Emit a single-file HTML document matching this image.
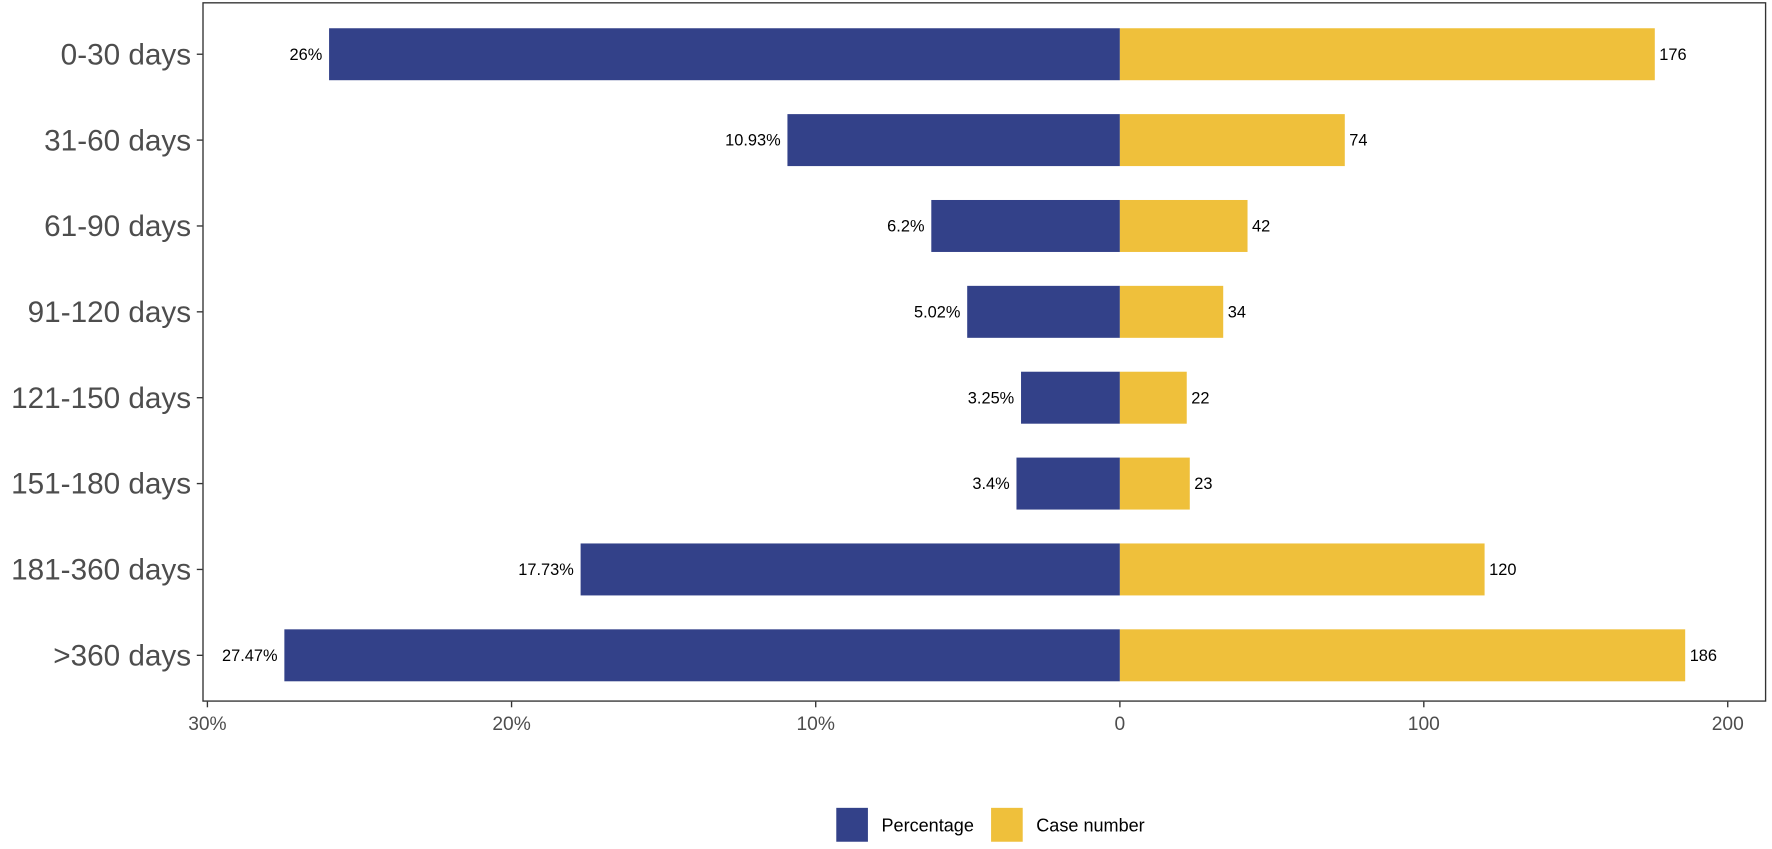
<!DOCTYPE html>
<html><head><meta charset="utf-8"><style>
body{margin:0;background:#fff;font-family:"Liberation Sans",Arial,sans-serif}
</style></head><body>
<svg id="chart" width="1772" height="844" viewBox="0 0 1568 747" xmlns="http://www.w3.org/2000/svg" font-family="Liberation Sans, Arial, sans-serif">
<rect x="179.5" y="2.5" width="1383" height="618" fill="none" stroke="#333" stroke-width="1.2"/>
<g id="bars"></g>
<g id="axes"></g>
<g>
<rect x="740" y="715" width="28" height="30" fill="#334189"/>
<text x="780" y="736" font-size="16" fill="#000">Percentage</text>
<rect x="877" y="715" width="28" height="30" fill="#EFC03B"/>
<text x="917" y="736" font-size="16" fill="#000">Case number</text>
</g>
</svg>
<script>
const categories=["0-30 days","31-60 days","61-90 days","91-120 days","121-150 days","151-180 days","181-360 days",">360 days"];
const percentages=[26,10.93,6.2,5.02,3.25,3.4,17.73,27.47];
const pctLabels=["26%","10.93%","6.2%","5.02%","3.25%","3.4%","17.73%","27.47%"];
const cases=[176,74,42,34,22,23,120,186];
const leftTicks=[30,20,10];
const rightTicks=[0,100,200];
const NS="http://www.w3.org/2000/svg";
const x0=991, pxPerPct=26.92, pxPerCase=2.69;
const xPct=p=>x0-p*pxPerPct;
const xCase=c=>x0+c*pxPerCase;
const yCenter=i=>48+i*76;
const barH=46;
const bars=document.getElementById('bars'), axes=document.getElementById('axes');
function mk(tag,attrs,parent,txt){const e=document.createElementNS(NS,tag);for(const k in attrs)e.setAttribute(k,attrs[k]);if(txt!==undefined)e.textContent=txt;parent.appendChild(e);return e;}
categories.forEach((c,i)=>{
  const y=yCenter(i);
  const b=mk('rect',{x:xPct(percentages[i]),y:y-barH/2,width:x0-xPct(percentages[i]),height:barH,fill:'#334189'},bars);
  
  
  const b2=mk('rect',{x:x0,y:y-barH/2,width:xCase(cases[i])-x0,height:barH,fill:'#EFC03B'},bars);
  
  
  const t=mk('text',{x:xPct(percentages[i])-6,y:y+5,'text-anchor':'end','font-size':14.5,fill:'#000'},bars,pctLabels[i]);
  
  
  const t2=mk('text',{x:xCase(cases[i])+4,y:y+5,'font-size':14.5,fill:'#000'},bars,String(cases[i]));
  
  
  const tk=mk('line',{x1:174,x2:179,y1:y,y2:y,stroke:'#333','stroke-width':1.2},axes);
  
  
  const yl=mk('text',{x:169,y:y+9,'text-anchor':'end','font-size':26.3,fill:'#4d4d4d'},axes,c);
  
  
});
function xtick(x,label){
  const l=mk('line',{x1:x,x2:x,y1:621,y2:626,stroke:'#333','stroke-width':1.2},axes);
  
  
  const t=mk('text',{x:x,y:646,'text-anchor':'middle','font-size':17,fill:'#4d4d4d'},axes,label);
  
  
}
leftTicks.forEach(p=>xtick(xPct(p),p+'%'));
rightTicks.forEach(c=>xtick(xCase(c),String(c)));
</script>
</body></html>
